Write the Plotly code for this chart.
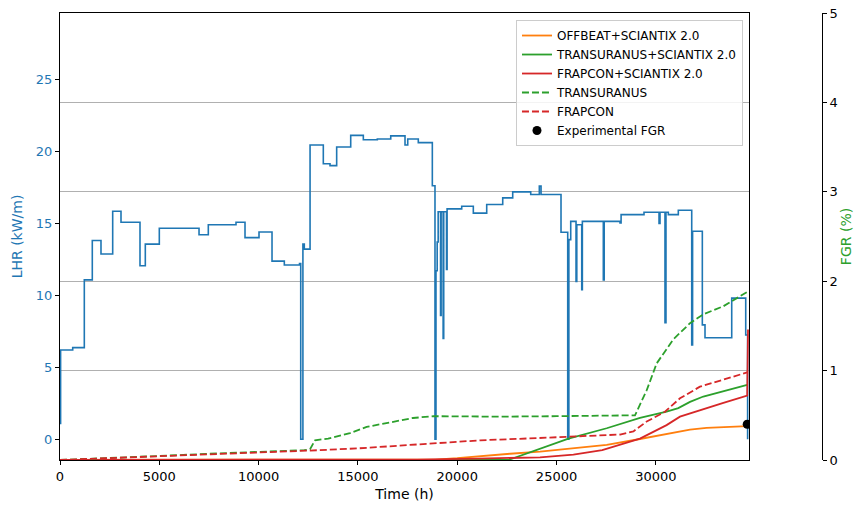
import plotly.graph_objects as go

# Linear heat rate history (step-wise power history), start time of each level
lhr_time = [0, 30, 640, 1224, 1626, 2064, 2653, 3071, 4028, 4295, 5000, 7000, 7467,
            8862, 9315, 10020, 10675, 11294, 12060, 12120, 12230, 12300, 12590, 13257,
            13595, 13930, 14637, 15272, 15976, 16652, 17371, 17508, 18040, 18746, 18880,
            18930, 18990, 19040, 19160, 19190, 19290, 19320, 19460, 19490, 20225, 20810,
            21484, 22290, 22793, 23700, 24133, 24220, 25225, 25563, 25620, 25714, 25981,
            26020, 26268, 26300, 27355, 27400, 28196, 28250, 29404, 30160, 30210, 30460,
            30510, 30628, 31131, 31806, 31850, 32340, 32475, 33820, 34525, 34620]
lhr_value = [1.1, 6.2, 6.36, 11.07, 13.8, 12.86, 15.83, 15.07, 12.05, 13.55, 14.65, 14.2, 14.9,
             15.07, 14.0, 14.39, 12.37, 12.1, 12.2, 0.0, 13.55, 13.2, 20.43, 19.13,
             19.0, 20.3, 21.1, 20.8, 20.85, 21.07, 20.43, 20.85, 20.6, 17.6, 0.0,
             11.7, 13.7, 15.8, 8.6, 15.8, 7.0, 15.8, 11.8, 16.0, 16.18, 15.7,
             16.3, 16.76, 17.18, 17.0, 17.58, 17.0, 14.37, 0.0, 13.86, 15.13, 10.95,
             14.9, 10.38, 15.13, 11.07, 15.13, 15.02, 15.6, 15.76, 14.98, 15.76, 8.1,
             15.76, 15.6, 15.9, 6.55, 14.44, 7.94, 7.05, 9.8, 7.24, 0.0]

# Fission gas release predictions (%)
offbeat_t = [0, 18500, 18900, 20000, 21500, 22660, 24170, 25850, 27525, 29200, 30880,
             31720, 32550, 33400, 34600]
offbeat_fgr = [0, 0, 0.005, 0.02, 0.05, 0.07, 0.093, 0.13, 0.17, 0.235, 0.31,
               0.34, 0.36, 0.37, 0.38]

tu_sc_t = [0, 22570, 25600, 27525, 29200, 30540, 31130, 31720, 32390, 33400, 34600]
tu_sc_fgr = [0, 0, 0.24, 0.355, 0.47, 0.54, 0.58, 0.65, 0.71, 0.77, 0.84]

fc_sc_t = [0, 18000, 21000, 22660, 24170, 25850, 27300, 29200, 30540, 31215, 32224,
           33400, 34600, 34640]
fc_sc_fgr = [0, 0.005, 0.015, 0.02, 0.03, 0.06, 0.11, 0.24, 0.39, 0.485, 0.56,
             0.64, 0.72, 1.46]

tu_t = [0, 2500, 5000, 7500, 10000, 12300, 12590, 12840, 13500, 14600, 15440, 16615,
        17775, 18800, 22000, 25000, 28950, 29540, 30040, 30880, 31720, 32390, 33400, 34600]
tu_fgr = [0, 0.02, 0.045, 0.07, 0.09, 0.11, 0.12, 0.22, 0.24, 0.30, 0.37, 0.42,
          0.47, 0.49, 0.485, 0.49, 0.50, 0.78, 1.08, 1.35, 1.53, 1.63, 1.72, 1.88]

fc_t = [0, 5000, 10000, 12500, 15000, 18000, 21150, 24000, 26500, 28200, 28870, 29540,
        30460, 31215, 32220, 33400, 34600]
fc_fgr = [0, 0.04, 0.085, 0.105, 0.13, 0.17, 0.22, 0.245, 0.27, 0.285, 0.32, 0.43,
          0.54, 0.69, 0.82, 0.90, 0.98]

exp_t = [34600]
exp_fgr = [0.40]

x_ticks = [0, 5000, 10000, 15000, 20000, 25000, 30000]
x_tick_labels = ["0", "5000", "10000", "15000", "20000", "25000", "30000"]
lhr_ticks = [0, 5, 10, 15, 20, 25]
fgr_ticks = [0, 1, 2, 3, 4, 5]

BLUE = "#1f77b4"
ORANGE = "#ff7f0e"
GREEN = "#2ca02c"
RED = "#d62728"
FONT = "DejaVu Sans"

fig = go.Figure()

fig.add_trace(go.Scatter(x=lhr_time, y=lhr_value, mode="lines",
                         line=dict(color=BLUE, width=1.6, shape="hv"),
                         showlegend=False, yaxis="y"))

dash = "7px,3px"
fig.add_trace(go.Scatter(x=offbeat_t, y=offbeat_fgr, mode="lines", name="OFFBEAT+SCIANTIX 2.0",
                         line=dict(color=ORANGE, width=1.8), yaxis="y2"))
fig.add_trace(go.Scatter(x=tu_sc_t, y=tu_sc_fgr, mode="lines", name="TRANSURANUS+SCIANTIX 2.0",
                         line=dict(color=GREEN, width=1.8), yaxis="y2"))
fig.add_trace(go.Scatter(x=fc_sc_t, y=fc_sc_fgr, mode="lines", name="FRAPCON+SCIANTIX 2.0",
                         line=dict(color=RED, width=1.8), yaxis="y2"))
fig.add_trace(go.Scatter(x=tu_t, y=tu_fgr, mode="lines", name="TRANSURANUS",
                         line=dict(color=GREEN, width=1.8, dash=dash), yaxis="y2"))
fig.add_trace(go.Scatter(x=fc_t, y=fc_fgr, mode="lines", name="FRAPCON",
                         line=dict(color=RED, width=1.8, dash=dash), yaxis="y2"))
fig.add_trace(go.Scatter(x=exp_t, y=exp_fgr, mode="markers", name="Experimental FGR",
                         marker=dict(color="black", size=9), yaxis="y2"))

fig.update_layout(
    width=856, height=507,
    margin=dict(l=60, r=34, t=13, b=47),
    paper_bgcolor="white", plot_bgcolor="white",
    font=dict(family=FONT, size=13, color="black"),
    xaxis=dict(domain=[0, 0.9042], range=[0, 34690],
               tickvals=x_ticks, ticktext=x_tick_labels,
               ticks="outside", ticklen=4, tickcolor="black",
               showline=True, linecolor="black", linewidth=1, mirror=True,
               showgrid=False, zeroline=False, automargin=False,
               title=dict(text="Time (h)", font=dict(size=14), standoff=6)),
    yaxis=dict(range=[-1.44, 29.6], tickvals=lhr_ticks,
               tickfont=dict(color=BLUE), ticks="outside", ticklen=4, tickcolor="black",
               showline=True, linecolor="black", linewidth=1, mirror=True,
               showgrid=False, zeroline=False, automargin=False,
               title=dict(text="LHR (kW/m)", font=dict(color=BLUE, size=14), standoff=9)),
    yaxis2=dict(overlaying="y", anchor="free", position=1.0, side="right",
                range=[0, 5], tickvals=fgr_ticks,
                ticks="outside", ticklen=4, tickcolor="black",
                showline=True, linecolor="black", linewidth=1,
                showgrid=True, gridcolor="#b0b0b0", gridwidth=1,
                zeroline=False, automargin=False,
                title=dict(text="FGR (%)", font=dict(color=GREEN, size=14), standoff=4)),
    legend=dict(x=0.8963, xanchor="right", y=0.9843, yanchor="top",
                bgcolor="rgba(255,255,255,0.85)", bordercolor="#cccccc", borderwidth=1,
                font=dict(size=12, color="black")),
)

fig.write_html("out.html")
